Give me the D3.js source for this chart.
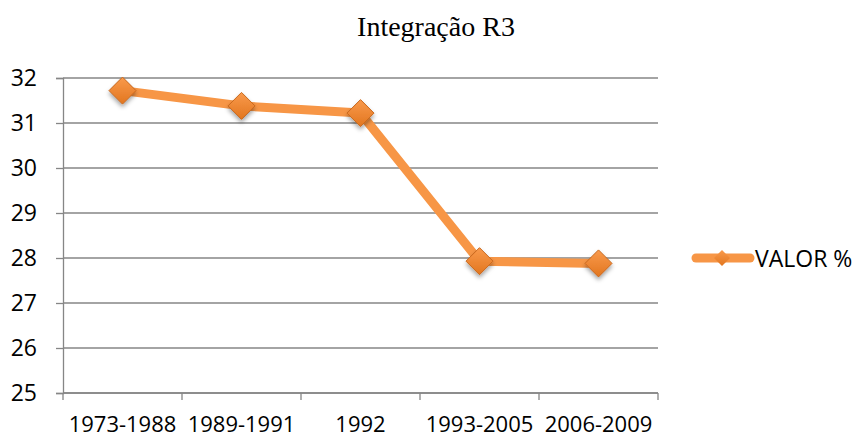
<!DOCTYPE html>
<html>
<head>
<meta charset="utf-8">
<script src="https://cdn.jsdelivr.net/npm/d3@7"></script>
<style>
  html, body { margin: 0; padding: 0; background: #fff; }
  svg { display: block; }
</style>
</head>
<body>
<svg id="chart" width="854" height="438"></svg>
<script>
// Periods and their percentage values
const categories = ["1973-1988", "1989-1991", "1992", "1993-2005", "2006-2009"];
const values = [31.72, 31.38, 31.22, 27.93, 27.88];
const yTicks = [25, 26, 27, 28, 29, 30, 31, 32];
const seriesName = "VALOR %";
const title = "Integração R3";

const svg = d3.select("#chart");
const margin = { left: 63, right: 196, top: 78, bottom: 45 };
const W = 854, H = 438;

const x = d3.scaleBand().domain(categories).range([margin.left, W - margin.right]);
const y = d3.scaleLinear().domain([25, 32]).range([H - margin.bottom, margin.top]);

const orange = "#F79646";
const labelFont = "'Open Sans', 'Liberation Sans', sans-serif";
const labelSize = 23;

// Marker gradient + soft shadow
const defs = svg.append("defs");
const grad = defs.append("linearGradient").attr("id", "mk").attr("x1", 0).attr("y1", 0).attr("x2", 0).attr("y2", 1);
grad.append("stop").attr("offset", "0%").attr("stop-color", "#F99A4C");
grad.append("stop").attr("offset", "100%").attr("stop-color", "#E2761F");
const f = defs.append("filter").attr("id", "sh").attr("x", "-50%").attr("y", "-50%").attr("width", "200%").attr("height", "200%");
f.append("feDropShadow").attr("dx", 0).attr("dy", 3).attr("stdDeviation", 2).attr("flood-color", "#000").attr("flood-opacity", 0.35);

// Title
svg.append("text")
  .attr("x", 436).attr("y", 36)
  .attr("text-anchor", "middle")
  .attr("font-family", "'Liberation Serif', 'Times New Roman', serif")
  .attr("font-size", 28)
  .attr("fill", "#000")
  .text(title);

// Horizontal gridlines
svg.append("g").selectAll("line").data(yTicks).join("line")
  .attr("x1", margin.left).attr("x2", W - margin.right)
  .attr("y1", d => y(d)).attr("y2", d => y(d))
  .attr("stroke", "#868686").attr("stroke-width", 1.3);

// Y axis
const yAxis = svg.append("g")
  .attr("transform", `translate(${margin.left},0)`)
  .call(d3.axisLeft(y).tickValues(yTicks).tickSize(7).tickPadding(19).tickFormat(d3.format("d")));
yAxis.select(".domain").attr("stroke", "#868686").attr("stroke-width", 1.3);
yAxis.selectAll(".tick line").attr("stroke", "#868686").attr("stroke-width", 1.3);
yAxis.selectAll("text").attr("font-family", labelFont).attr("font-size", labelSize).attr("fill", "#000");

// X axis with tick marks at band boundaries
const xAxisG = svg.append("g").attr("transform", `translate(0,${y(25)})`);
xAxisG.append("line")
  .attr("x1", margin.left).attr("x2", W - margin.right)
  .attr("stroke", "#868686").attr("stroke-width", 1.3);
const bounds = categories.map(c => x(c)).concat([x(categories[categories.length - 1]) + x.bandwidth()]);
xAxisG.selectAll("line.tk").data(bounds).join("line").attr("class", "tk")
  .attr("x1", d => d).attr("x2", d => d).attr("y1", 0).attr("y2", 7)
  .attr("stroke", "#868686").attr("stroke-width", 1.3);
xAxisG.selectAll("text").data(categories).join("text")
  .attr("x", d => x(d) + x.bandwidth() / 2)
  .attr("y", 39)
  .attr("text-anchor", "middle")
  .attr("font-family", labelFont).attr("font-size", 22).attr("fill", "#000")
  .text(d => d);

// Series line
const line = d3.line().x((d, i) => x(categories[i]) + x.bandwidth() / 2).y(d => y(d));
svg.append("path").datum(values)
  .attr("d", line)
  .attr("fill", "none").attr("stroke", orange)
  .attr("stroke-width", 9).attr("stroke-linejoin", "round").attr("stroke-linecap", "round");

// Diamond markers
const diamond = s => `M0,${-s}L${s},0L0,${s}L${-s},0Z`;
svg.append("g").selectAll("path").data(values).join("path")
  .attr("transform", (d, i) => `translate(${x(categories[i]) + x.bandwidth() / 2},${y(d)})`)
  .attr("d", diamond(13.5))
  .attr("fill", "url(#mk)").attr("stroke", "#C8671E").attr("stroke-width", 1)
  .attr("filter", "url(#sh)");

// Legend
const lg = svg.append("g").attr("transform", `translate(0,${y(28)})`);
lg.append("line").attr("x1", 696).attr("x2", 750).attr("y1", 0).attr("y2", 0)
  .attr("stroke", orange).attr("stroke-width", 9).attr("stroke-linecap", "round");
lg.append("path").attr("transform", "translate(722,0)").attr("d", diamond(8))
  .attr("fill", "url(#mk)");
lg.append("text").attr("x", 755).attr("y", 1).attr("dy", "0.35em")
  .attr("font-family", labelFont).attr("font-size", labelSize).attr("fill", "#000")
  .text(seriesName);
</script>
</body>
</html>
